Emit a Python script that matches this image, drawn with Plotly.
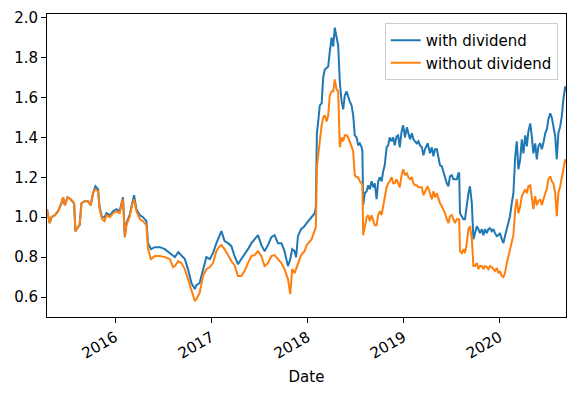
import plotly.graph_objects as go

dates = [
    "2015-04-17", "2015-04-27", "2015-05-04", "2015-05-17", "2015-05-29", "2015-06-11", "2015-06-17",
    "2015-06-24", "2015-07-04", "2015-07-16", "2015-07-29", "2015-08-03", "2015-08-13", "2015-08-19",
    "2015-08-26", "2015-09-07", "2015-09-20", "2015-09-30", "2015-10-09", "2015-10-18", "2015-10-28",
    "2015-11-03", "2015-11-12", "2015-11-22", "2015-11-29", "2015-12-12", "2015-12-24", "2016-01-06",
    "2016-01-18", "2016-01-31", "2016-02-07", "2016-02-13", "2016-02-25", "2016-03-05", "2016-03-13",
    "2016-03-22", "2016-04-04", "2016-04-16", "2016-04-29", "2016-05-05", "2016-05-16", "2016-05-31",
    "2016-06-19", "2016-07-08", "2016-07-27", "2016-08-08", "2016-08-15", "2016-08-28", "2016-09-09",
    "2016-09-22", "2016-10-04", "2016-10-17", "2016-10-30", "2016-11-05", "2016-11-17", "2016-11-30",
    "2016-12-13", "2016-12-26", "2017-01-07", "2017-01-20", "2017-02-01", "2017-02-08", "2017-02-20",
    "2017-03-05", "2017-03-18", "2017-03-30", "2017-04-12", "2017-04-25", "2017-05-07", "2017-05-20",
    "2017-06-02", "2017-06-14", "2017-06-27", "2017-07-10", "2017-07-22", "2017-08-04", "2017-08-17",
    "2017-08-29", "2017-09-11", "2017-09-24", "2017-10-06", "2017-10-19", "2017-10-28", "2017-11-04",
    "2017-11-13", "2017-11-19", "2017-11-26", "2017-12-08", "2017-12-21", "2017-12-29", "2018-01-17",
    "2018-01-29", "2018-02-02", "2018-02-06", "2018-02-11", "2018-02-17", "2018-02-24", "2018-03-02",
    "2018-03-08", "2018-03-15", "2018-03-21", "2018-03-27", "2018-04-03", "2018-04-09", "2018-04-15",
    "2018-04-22", "2018-04-28", "2018-05-04", "2018-05-11", "2018-05-17", "2018-05-23", "2018-05-30",
    "2018-06-05", "2018-06-11", "2018-06-18", "2018-06-24", "2018-06-30", "2018-07-07", "2018-07-13",
    "2018-07-19", "2018-07-26", "2018-07-29", "2018-08-01", "2018-08-07", "2018-08-14", "2018-08-20",
    "2018-08-26", "2018-09-02", "2018-09-08", "2018-09-14", "2018-09-21", "2018-09-27", "2018-10-03",
    "2018-10-10", "2018-10-16", "2018-10-22", "2018-10-29", "2018-11-04", "2018-11-10", "2018-11-17",
    "2018-11-23", "2018-11-29", "2018-12-06", "2018-12-12", "2018-12-18", "2018-12-25", "2018-12-31",
    "2019-01-07", "2019-01-14", "2019-01-20", "2019-01-26", "2019-02-02", "2019-02-08", "2019-02-14",
    "2019-02-21", "2019-02-27", "2019-03-05", "2019-03-12", "2019-03-18", "2019-03-24", "2019-04-03",
    "2019-04-12", "2019-04-19", "2019-04-25", "2019-05-01", "2019-05-08", "2019-05-14", "2019-05-20",
    "2019-05-27", "2019-06-02", "2019-06-08", "2019-06-15", "2019-06-21", "2019-06-27", "2019-07-04",
    "2019-07-10", "2019-07-16", "2019-07-23", "2019-07-29", "2019-08-01", "2019-08-04", "2019-08-11",
    "2019-08-17", "2019-08-23", "2019-08-30", "2019-09-05", "2019-09-11", "2019-09-18", "2019-09-24",
    "2019-09-30", "2019-10-07", "2019-10-13", "2019-10-19", "2019-10-26", "2019-11-01", "2019-11-07",
    "2019-11-14", "2019-11-20", "2019-11-26", "2019-12-03", "2019-12-09", "2019-12-15", "2019-12-22",
    "2019-12-28", "2020-01-03", "2020-01-10", "2020-01-16", "2020-01-22", "2020-01-29", "2020-02-04",
    "2020-02-10", "2020-02-17", "2020-02-23", "2020-03-01", "2020-03-07", "2020-03-13", "2020-03-20",
    "2020-03-26", "2020-04-01", "2020-04-08", "2020-04-14", "2020-04-20", "2020-04-27", "2020-05-03",
    "2020-05-09", "2020-05-16", "2020-05-22", "2020-05-28", "2020-06-04", "2020-06-10", "2020-06-16",
    "2020-06-23", "2020-06-29", "2020-07-05", "2020-07-12", "2020-07-18", "2020-07-24", "2020-07-31",
    "2020-08-06", "2020-08-12", "2020-08-19", "2020-08-25", "2020-08-31", "2020-09-07", "2020-09-10",
]

with_dividend = [
    1.04, 0.97, 1.00, 1.01, 1.03, 1.07, 1.10,
    1.06, 1.10, 1.09, 1.07, 0.93, 0.95, 0.96,
    1.07, 1.08, 1.08, 1.06, 1.12, 1.155, 1.14,
    1.05, 1.00, 1.00, 1.02, 1.01, 1.03, 1.04,
    1.03, 1.10, 0.90, 0.97, 1.01, 1.07, 1.11,
    1.04, 1.01, 1.00, 0.98, 0.87, 0.84, 0.85,
    0.85, 0.84, 0.82, 0.805, 0.80, 0.825, 0.81,
    0.79, 0.74, 0.67, 0.64, 0.66, 0.67, 0.74,
    0.80, 0.79, 0.82, 0.87, 0.91, 0.93, 0.88,
    0.87, 0.855, 0.805, 0.765, 0.79, 0.81, 0.84,
    0.87, 0.89, 0.91, 0.86, 0.83, 0.86, 0.90,
    0.91, 0.87, 0.87, 0.83, 0.755, 0.79, 0.84,
    0.83, 0.80, 0.905, 0.94, 0.955, 0.97, 1.00,
    1.02, 1.05, 1.42, 1.48, 1.56, 1.57, 1.70,
    1.74, 1.75, 1.755, 1.83, 1.90, 1.855, 1.95,
    1.90, 1.86, 1.68, 1.58, 1.54, 1.61, 1.63,
    1.60, 1.58, 1.56, 1.51, 1.41, 1.40, 1.36,
    1.37, 1.35, 1.33, 1.06, 1.12, 1.13, 1.16,
    1.14, 1.18, 1.15, 1.17, 1.09, 1.18, 1.20,
    1.18, 1.23, 1.26, 1.35, 1.36, 1.40, 1.38,
    1.40, 1.36, 1.405, 1.41, 1.35, 1.43, 1.46,
    1.40, 1.45, 1.42, 1.39, 1.42, 1.39, 1.38,
    1.37, 1.38, 1.36, 1.35, 1.31, 1.34, 1.37,
    1.32, 1.35, 1.305, 1.34, 1.34, 1.305, 1.26,
    1.255, 1.22, 1.20, 1.17, 1.155, 1.205, 1.21,
    1.19, 1.19, 1.19, 1.22, 1.22, 1.02, 1.005,
    0.99, 0.99, 1.07, 1.12, 1.155, 1.07, 0.89,
    0.92, 0.955, 0.94, 0.92, 0.94, 0.91, 0.94,
    0.92, 0.94, 0.945, 0.93, 0.94, 0.92, 0.905,
    0.91, 0.92, 0.89, 0.87, 0.905, 0.94, 0.97,
    1.005, 1.07, 1.12, 1.305, 1.38, 1.24, 1.29,
    1.39, 1.32, 1.41, 1.355, 1.43, 1.47, 1.405,
    1.32, 1.37, 1.29, 1.355, 1.37, 1.34, 1.37,
    1.42, 1.44, 1.49, 1.52, 1.50, 1.455, 1.405,
    1.29, 1.42, 1.455, 1.505, 1.59, 1.655, 1.63,
]

without_dividend = [
    1.04, 0.97, 1.00, 1.01, 1.03, 1.07, 1.10,
    1.06, 1.10, 1.09, 1.07, 0.93, 0.95, 0.96,
    1.07, 1.08, 1.08, 1.06, 1.12, 1.14, 1.13,
    1.04, 0.99, 0.98, 1.01, 1.00, 1.02, 1.03,
    1.02, 1.09, 0.90, 0.96, 1.00, 1.06, 1.09,
    1.03, 0.99, 0.98, 0.96, 0.84, 0.79, 0.805,
    0.805, 0.80, 0.79, 0.75, 0.755, 0.78, 0.77,
    0.74, 0.69, 0.63, 0.58, 0.59, 0.62, 0.705,
    0.74, 0.75, 0.77, 0.83, 0.855, 0.86, 0.84,
    0.81, 0.78, 0.76, 0.705, 0.705, 0.73, 0.77,
    0.805, 0.81, 0.83, 0.805, 0.755, 0.77, 0.805,
    0.81, 0.79, 0.77, 0.74, 0.69, 0.615, 0.74,
    0.72, 0.74, 0.77, 0.81, 0.83, 0.86, 0.89,
    0.93, 0.95, 1.25, 1.30, 1.38, 1.46, 1.50,
    1.51, 1.48, 1.51, 1.61, 1.63, 1.63, 1.69,
    1.64, 1.63, 1.35, 1.40, 1.38, 1.41, 1.41,
    1.40, 1.38, 1.355, 1.33, 1.21, 1.20, 1.20,
    1.18, 1.17, 1.16, 0.91, 0.96, 1.00, 1.01,
    0.98, 1.01, 0.99, 0.96, 0.96, 1.01, 1.03,
    1.01, 1.055, 1.105, 1.15, 1.17, 1.18, 1.20,
    1.17, 1.17, 1.19, 1.17, 1.15, 1.21, 1.24,
    1.21, 1.22, 1.20, 1.19, 1.20, 1.17, 1.16,
    1.16, 1.15, 1.15, 1.15, 1.11, 1.13, 1.155,
    1.12, 1.09, 1.13, 1.10, 1.12, 1.09, 1.07,
    1.055, 1.04, 1.02, 0.99, 0.97, 1.005, 1.01,
    0.99, 0.97, 0.99, 0.99, 0.99, 0.83, 0.82,
    0.84, 0.82, 0.87, 0.94, 0.955, 0.89, 0.755,
    0.755, 0.77, 0.74, 0.755, 0.755, 0.74, 0.755,
    0.75, 0.74, 0.755, 0.75, 0.74, 0.73, 0.745,
    0.72, 0.73, 0.705, 0.70, 0.72, 0.77, 0.805,
    0.83, 0.87, 0.91, 1.04, 1.09, 1.02, 1.055,
    1.105, 1.12, 1.14, 1.12, 1.155, 1.16, 1.09,
    1.04, 1.105, 1.06, 1.08, 1.09, 1.06, 1.09,
    1.12, 1.14, 1.19, 1.205, 1.18, 1.17, 1.12,
    1.005, 1.12, 1.155, 1.19, 1.24, 1.29, 1.27,
]

series_names = ["with dividend", "without dividend"]
colors = ["#1f77b4", "#ff7f0e"]

fig = go.Figure()
for name, vals, col in zip(series_names, [with_dividend, without_dividend], colors):
    fig.add_trace(go.Scatter(x=dates, y=vals, mode="lines", name=name,
                             line=dict(color=col, width=2)))

axis_common = dict(showline=True, linecolor="black", linewidth=1, mirror=True,
                   ticks="outside", ticklen=5, tickcolor="black", showgrid=False,
                   zeroline=False, tickfont=dict(size=15, color="black"))

# the page body has an 8px default margin, so the figure is sized and
# offset to land the plot frame where the reference has it
fig.update_layout(
    width=560, height=378,
    margin=dict(l=39, r=2, t=6, b=69),
    paper_bgcolor="white", plot_bgcolor="white",
    font=dict(family="DejaVu Sans", size=15, color="black"),
    showlegend=True,
    legend=dict(x=0.984, y=0.97, xanchor="right", yanchor="top",
                bgcolor="rgba(255,255,255,0.8)", bordercolor="#cccccc", borderwidth=1,
                font=dict(size=15)),
    xaxis=dict(range=["2015-04-17", "2020-09-10"], tickformat="%Y", dtick="M12",
               tick0="2016-01-01", tickangle=-30,
               title=dict(text="Date", font=dict(size=15), standoff=10), **axis_common),
    yaxis=dict(range=[0.5, 2.018], tickvals=[0.6, 0.8, 1.0, 1.2, 1.4, 1.6, 1.8, 2.0],
               tickformat=".1f", **axis_common),
)

fig.write_html("out.html")
